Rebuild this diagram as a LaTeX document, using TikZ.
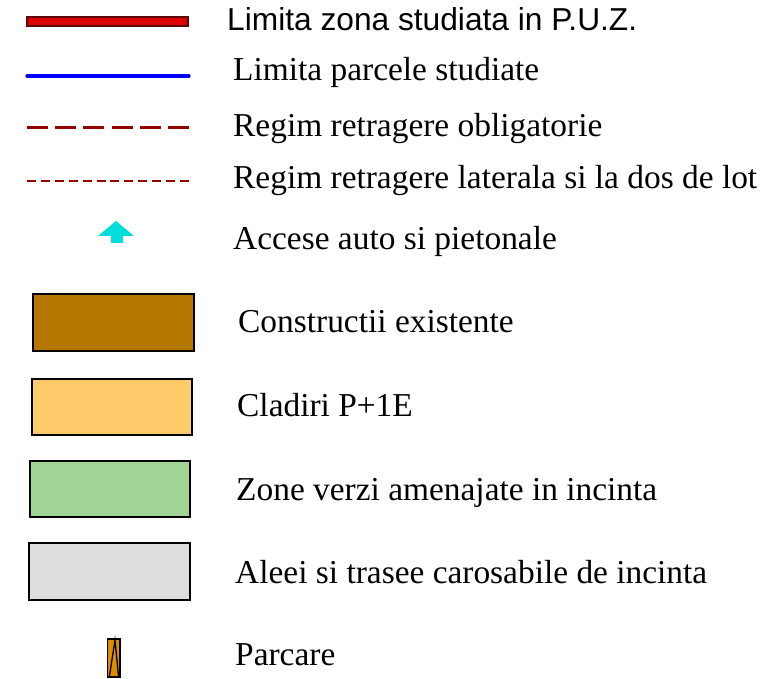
\documentclass[tikz,border=0pt]{standalone}
\usepackage{fontspec}
\setmainfont{Liberation Serif}
\setsansfont{Liberation Sans}
\definecolor{puzred}{HTML}{DD0000}
\definecolor{puzedge}{HTML}{5A0A0A}
\definecolor{parblue}{HTML}{0000FF}
\definecolor{retred}{HTML}{930000}
\definecolor{acccyan}{HTML}{00DDDD}
\definecolor{cexist}{HTML}{B47800}
\definecolor{cclad}{HTML}{FDCA6A}
\definecolor{czone}{HTML}{A0D596}
\definecolor{calee}{HTML}{DDDDDD}
\definecolor{cpark}{HTML}{E08A00}
\tikzset{
  lbl/.style={anchor=base west, inner sep=0pt, font=\fontsize{33.4}{36}\selectfont},
  lblsans/.style={anchor=base west, inner sep=0pt, font=\sffamily\fontsize{31.7}{34}\selectfont},
  swatch/.style={draw=black, line width=1.6pt},
}
\begin{document}
\begin{tikzpicture}[x=1pt, y=-1pt]
\useasboundingbox (0,0) rectangle (780,679);
% line symbols
\draw[fill=puzred, draw=puzedge, line width=1.2pt] (27,17) rectangle (188,26);
\draw[parblue, line width=3.2pt, line cap=round] (27,76) -- (189,76);
\draw[retred, line width=3pt, dash pattern=on 21pt off 7.2pt] (27,128) -- (189,128);
\draw[retred, line width=2pt, dash pattern=on 9pt off 4.9pt] (27,181) -- (189,181);
% access arrow
\fill[acccyan] (116,221) -- (134,236) -- (123,236) -- (123,243) -- (111,243) -- (111,236) -- (98,236) -- cycle;
% area swatches
\draw[swatch, fill=cexist] (33,294) rectangle (194,351);
\draw[swatch, fill=cclad] (32,379) rectangle (192,435);
\draw[swatch, fill=czone] (30,461) rectangle (190,517);
\draw[swatch, fill=calee] (29,543) rectangle (190,600);
% parking
\draw[fill=cpark, draw=black, line width=1.5pt] (107.5,639) rectangle (120,677);
\draw[black, line width=1.3pt, line join=miter] (109.5,676) -- (115,640) -- (118.5,676);
% labels
\node[lblsans] (t1) at (227,31) {Limita zona studiata in P.U.Z.};
\node[lbl] (t2) at (233,81) {Limita parcele studiate};
\node[lbl] (t3) at (233,137) {Regim retragere obligatorie};
\node[lbl] (t4) at (233,189) {Regim retragere laterala si la dos de lot};
\node[lbl] (t5) at (233,250) {Accese auto si pietonale};
\node[lbl] (t6) at (238,333) {Constructii existente};
\node[lbl] (t7) at (237,417) {Cladiri P+1E};
\node[lbl] (t8) at (236,500) {Zone verzi amenajate in incinta};
\node[lbl] (t9) at (235,583) {Aleei si trasee carosabile de incinta};
\node[lbl] (t10) at (235,665) {Parcare};
\end{tikzpicture}
\end{document}
